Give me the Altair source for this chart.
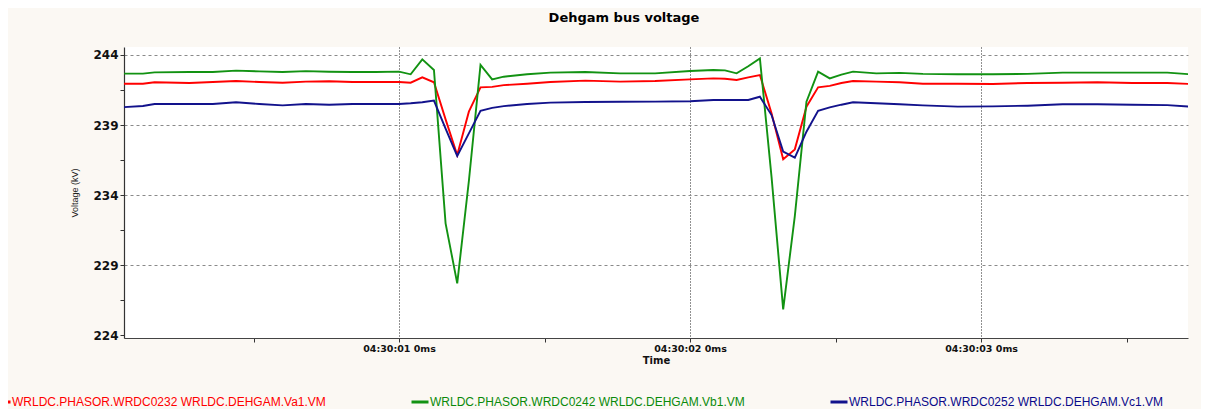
import altair as alt
import pandas as pd

# time in seconds after 04:30:00
times = [0.04, 0.12, 0.16, 0.28, 0.36, 0.44, 0.52, 0.60, 0.68, 0.76, 0.84, 0.92,
         1.00, 1.04, 1.08, 1.12, 1.16, 1.20, 1.24, 1.28, 1.32, 1.36,
         1.44, 1.52, 1.64, 1.76, 1.88,
         2.00, 2.08,
         2.12, 2.16, 2.20, 2.24, 2.28, 2.32, 2.36, 2.40, 2.44, 2.48, 2.52, 2.56,
         2.64, 2.72, 2.80, 2.92, 3.04, 3.16, 3.28, 3.40, 3.52, 3.64, 3.72]

va1 = [241.95, 241.95, 242.05, 242.0, 242.07, 242.14, 242.07, 242.02, 242.1, 242.12, 242.07, 242.07,
       242.07, 242.02, 242.4, 242.05, 239.4, 236.86, 239.95, 241.69, 241.72, 241.85,
       241.95, 242.07, 242.17, 242.1, 242.14,
       242.26, 242.33,
       242.3, 242.21, 242.4, 242.57, 239.83, 236.55, 237.26, 240.31, 241.69, 241.79, 242.0, 242.14,
       242.1, 242.05, 241.95, 241.95, 241.93, 242.0, 242.02, 242.05, 242.0, 242.0, 241.93]

vb1 = [242.67, 242.67, 242.76, 242.79, 242.79, 242.88, 242.83, 242.78, 242.85, 242.8, 242.78, 242.78,
       242.81, 242.62, 243.69, 242.93, 231.98, 227.69, 235.0, 243.29, 242.26, 242.45,
       242.62, 242.74, 242.79, 242.69, 242.69,
       242.86, 242.93,
       242.9, 242.69, 243.2, 243.76, 235.3, 225.83, 232.5, 240.67, 242.81, 242.33, 242.6, 242.81,
       242.69, 242.72, 242.65, 242.62, 242.62, 242.65, 242.74, 242.74, 242.74, 242.74, 242.62]

vc1 = [240.26, 240.36, 240.5, 240.5, 240.5, 240.62, 240.5, 240.4, 240.5, 240.45, 240.5, 240.5,
       240.5, 240.55, 240.62, 240.74, 238.74, 236.79, 238.4, 240.02, 240.22, 240.35,
       240.5, 240.6, 240.64, 240.66, 240.67,
       240.7, 240.79,
       240.79, 240.79, 240.79, 241.02, 239.71, 237.1, 236.67, 238.52, 240.02, 240.26, 240.45, 240.62,
       240.55, 240.48, 240.4, 240.31, 240.33, 240.38, 240.48, 240.48, 240.45, 240.42, 240.31]

series_names = [
    "WRLDC.PHASOR.WRDC0232 WRLDC.DEHGAM.Va1.VM",
    "WRLDC.PHASOR.WRDC0242 WRLDC.DEHGAM.Vb1.VM",
    "WRLDC.PHASOR.WRDC0252 WRLDC.DEHGAM.Vc1.VM",
]
line_colors = ["#FF0000", "#129212", "#12128C"]
label_colors = ["#FF0000", "#0A8A0A", "#0A0A8A"]

x_ticks = [0.5, 1, 1.5, 2, 2.5, 3, 3.5]
y_ticks = [224, 226.5, 229, 231.5, 234, 236.5, 239, 241.5, 244]

rows = []
for name, vals in zip(series_names, [va1, vb1, vc1]):
    for t, v in zip(times, vals):
        rows.append({"t": t, "v": v, "series": name})
df = pd.DataFrame(rows)

label_color_expr = (
    f"datum.value === '{series_names[0]}' ? '{label_colors[0]}' : "
    f"datum.value === '{series_names[1]}' ? '{label_colors[1]}' : '{label_colors[2]}'"
)

chart = alt.Chart(df).mark_line(strokeWidth=1.9, clip=True).encode(
    x=alt.X(
        "t:Q",
        scale=alt.Scale(domain=[0.055, 3.711], nice=False, zero=False),
        axis=alt.Axis(
            values=x_ticks,
            labelExpr="datum.value % 1 === 0 ? '04:30:0' + format(datum.value, 'd') + ' 0ms' : ''",
            title="Time",
            titleFont="DejaVu Sans",
            titleFontSize=10,
            titleFontWeight="bold",
            titleColor="#111111",
            titlePadding=3,
            labelFont="DejaVu Sans",
            labelFontSize=9.5,
            labelFontWeight="bold",
            labelColor="#111111",
            labelPadding=1,
            labelFlush=False,
            labelOverlap=False,
            tickSize=4,
            tickColor="#333333",
            domainColor="#444444",
            domainWidth=1.2,
            grid=True,
            gridColor="#222222",
            gridDash=[1, 2],
            gridWidth=1,
            gridOpacity={"condition": {"test": "datum.value % 1 === 0", "value": 1}, "value": 0},
        ),
    ),
    y=alt.Y(
        "v:Q",
        scale=alt.Scale(domain=[223.79, 244.57], nice=False, zero=False),
        axis=alt.Axis(
            values=y_ticks,
            labelExpr="datum.value % 5 === 4 ? format(datum.value, 'd') : ''",
            title="Voltage (kV)",
            titleFont="Liberation Sans",
            titleFontSize=9,
            titleFontWeight="normal",
            titleColor="#222222",
            titlePadding=13,
            labelFont="DejaVu Sans",
            labelFontSize=12,
            labelFontWeight="bold",
            labelColor="#111111",
            labelPadding=2,
            labelOverlap=False,
            tickSize=4,
            tickColor="#333333",
            domainColor="#333333",
            domainWidth=1.2,
            grid=True,
            gridColor="#8a8a8a",
            gridDash=[3, 3],
            gridWidth=1,
            gridOpacity={"condition": {"test": "datum.value % 5 === 4 && datum.value > 224", "value": 1}, "value": 0},
        ),
    ),
    color=alt.Color(
        "series:N",
        scale=alt.Scale(domain=series_names, range=line_colors),
        legend=alt.Legend(
            title=None,
            orient="none",
            legendX=-132,
            legendY=345,
            direction="horizontal",
            columns=3,
            columnPadding=79,
            rowPadding=0,
            padding=0,
            symbolType="stroke",
            symbolSize=289,
            symbolStrokeWidth=3,
            symbolOpacity=1,
            labelFont="Liberation Sans",
            labelFontSize=12,
            labelOffset=0,
            labelLimit=600,
            labelColor={"expr": label_color_expr},
        ),
    ),
).properties(
    width=1064,
    height=291,
    title=alt.TitleParams(
        "Dehgam bus voltage",
        anchor="middle",
        frame="group",
        dx=-32,
        offset=22,
        font="DejaVu Sans",
        fontSize=13,
        fontWeight="bold",
        color="#000000",
    ),
    autosize=alt.AutoSizeParams(type="none"),
    padding={"left": 116, "top": 39, "right": 13, "bottom": 71},
    background="#FBF8F3",
).configure_view(
    fill="#FFFFFF",
    stroke=None,
)

chart.save("out.html", embed_options={"renderer": "svg", "actions": False})
